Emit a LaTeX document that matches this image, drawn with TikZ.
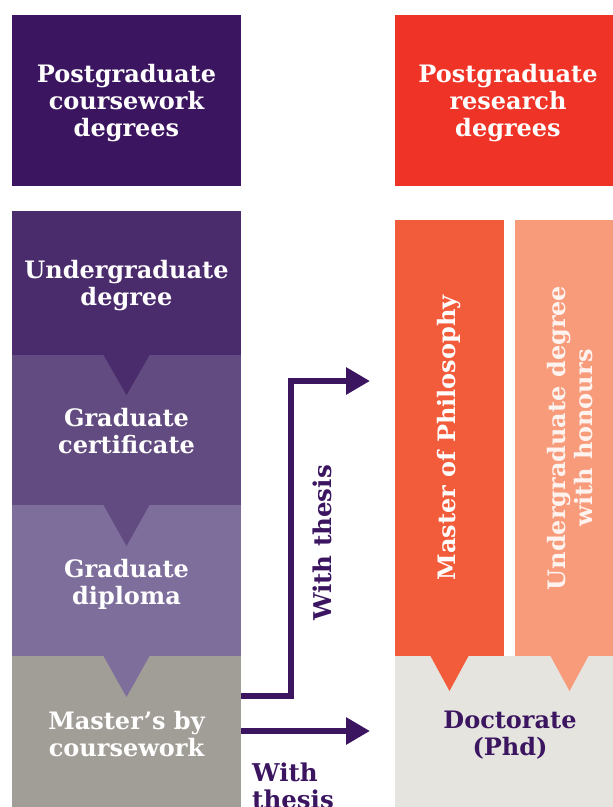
\documentclass[tikz,border=0pt]{standalone}
\usepackage{fontspec}
\setmainfont{DejaVu Serif}
\usetikzlibrary{arrows.meta}
\definecolor{hdpurple}{HTML}{3B1560}
\definecolor{hdred}{HTML}{EF3427}
\definecolor{ugcol}{HTML}{4A2B6C}
\definecolor{certcol}{HTML}{624B80}
\definecolor{diplcol}{HTML}{7E6E9B}
\definecolor{mastcol}{HTML}{A19D97}
\definecolor{mphilcol}{HTML}{F25C3A}
\definecolor{honcol}{HTML}{F89B7B}
\definecolor{doctcol}{HTML}{E5E4DF}
\begin{document}
\begin{tikzpicture}[x=1pt,y=-1pt,
  box/.style={rectangle, inner sep=0pt, outer sep=0pt, draw=none},
  txt/.style={inner sep=0pt, align=center,
    font=\fontsize{24}{27}\selectfont\bfseries, text=white},
  conn/.style={draw=hdpurple, line width=6pt, -{Triangle[length=24pt,width=26pt]}},
  lbl/.style={font=\fontsize{24.5}{27}\selectfont\bfseries, text=hdpurple, inner sep=0pt}]
\useasboundingbox (0,0) rectangle (613,807);
% headers
\node[box, fill=hdpurple, minimum width=229pt, minimum height=171pt] (lhead) at (126.5,100.5) {};
\node[txt] (lheadt) at ([yshift=-3pt]lhead.center) {Postgraduate\\coursework\\degrees};
\node[box, fill=hdred, minimum width=230pt, minimum height=171pt] (rhead) at (510,100.5) {};
\node[txt] (rheadt) at ([xshift=-2pt,yshift=-3pt]rhead.center) {Postgraduate\\research\\degrees};
% left stack
\node[box, fill=ugcol, minimum width=229pt, minimum height=144pt] (ug) at (126.5,283) {};
\node[txt] (ugt) at ([yshift=-3pt]ug.center) {Undergraduate\\degree};
\node[box, fill=certcol, minimum width=229pt, minimum height=150pt] (cert) at (126.5,430) {};
\node[txt] (certt) at ([yshift=-1.5pt]cert.center) {Graduate\\certificate};
\node[box, fill=diplcol, minimum width=229pt, minimum height=151pt] (dipl) at (126.5,580.5) {};
\node[txt] (diplt) at ([yshift=-3.5pt]dipl.center) {Graduate\\diploma};
\node[box, fill=mastcol, minimum width=229pt, minimum height=160pt] (mast) at (126.5,736) {};
\node[txt] (mastt) at ([yshift=2pt]mast.center) {Master’s by\\coursework};
% notches left
\fill[ugcol] (103.5,355) -- (149.5,355) -- (126.5,395) -- cycle;
\fill[certcol] (103.5,505) -- (149.5,505) -- (126.5,546) -- cycle;
\fill[diplcol] (103.5,656) -- (149.5,656) -- (126.5,697) -- cycle;
% right column
\node[box, fill=mphilcol, minimum width=109pt, minimum height=436pt] (mphilbox) at (449.5,438) {};
\node[txt, rotate=90] (mphil) at (mphilbox.center) {Master of Philosophy};
\node[box, fill=honcol, minimum width=110pt, minimum height=436pt] (honbox) at (570,438) {};
\node[txt, rotate=90, text=white!88!honcol] (hon) at (honbox.center) {Undergraduate degree\\with honours};
\node[box, fill=doctcol, minimum width=230pt, minimum height=160pt] (doct) at (510,736) {};
\node[txt, text=hdpurple] (doctt) at ([yshift=0.5pt]doct.center) {Doctorate\\(Phd)};
\fill[mphilcol] (430.5,656) -- (468.5,656) -- (449.5,691) -- cycle;
\fill[honcol] (550.5,656) -- (588.5,656) -- (569.5,691) -- cycle;
% connectors
\draw[conn] ([yshift=40pt]mast.east) -- ++(50,0) |- ([xshift=-25pt,yshift=57pt]mphilbox.west);
\draw[conn] ([yshift=5pt]mast.east) -- ([xshift=-25pt,yshift=5pt]doct.west);
% labels
\node[lbl, rotate=90] (wt1) at (322,543) {With thesis};
\node[lbl, anchor=north west, align=left] (wt2) at (252,763) {With\\thesis};
\end{tikzpicture}
\end{document}
